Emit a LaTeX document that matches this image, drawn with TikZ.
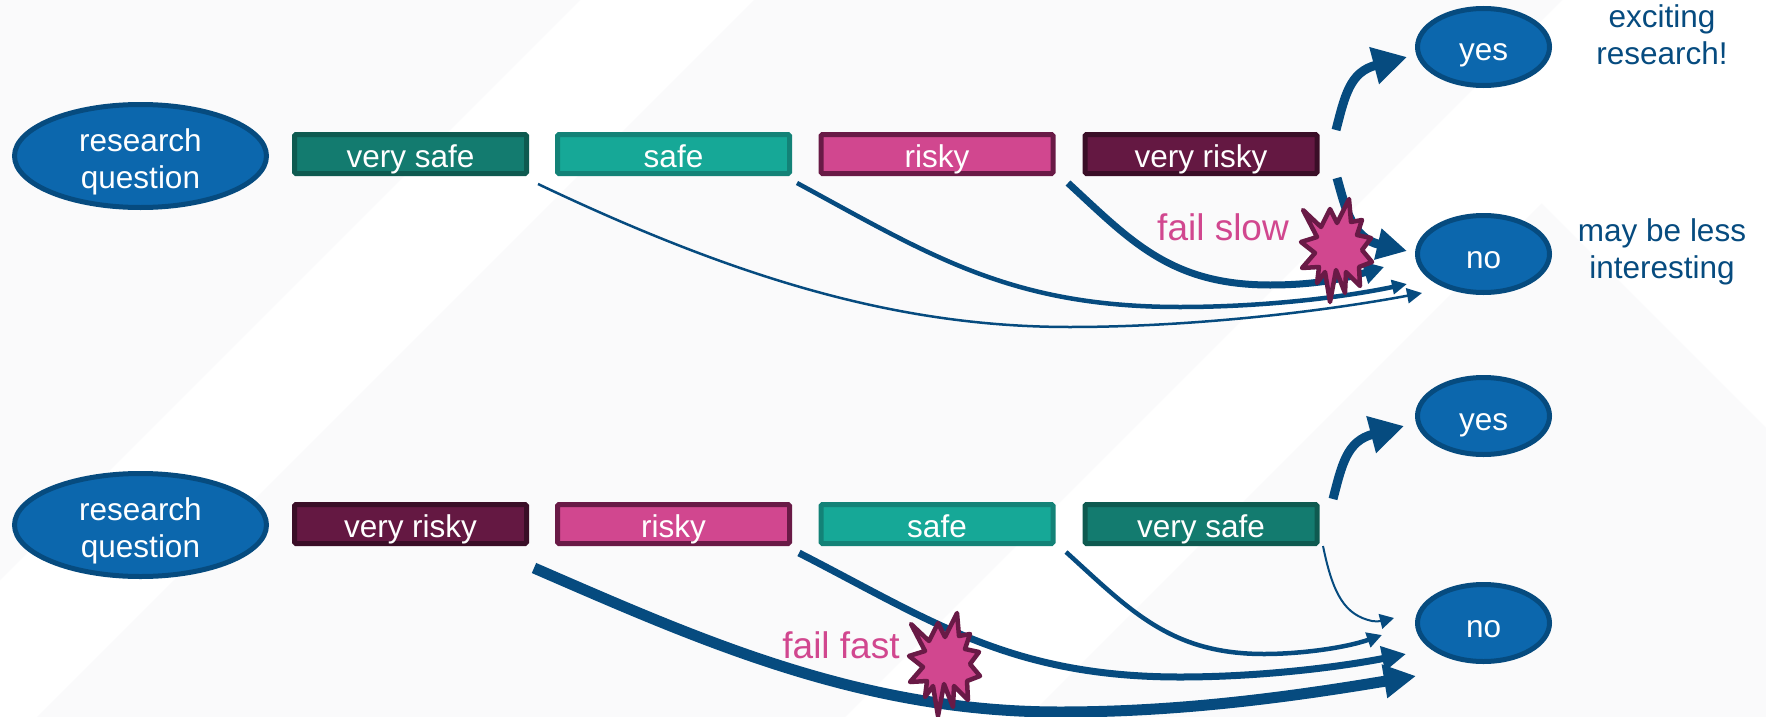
\documentclass[tikz,border=0pt]{standalone}
\usepackage{fontspec}
\setmainfont{Liberation Sans}
\usetikzlibrary{arrows.meta,shapes.geometric}
\definecolor{bgrey}{HTML}{FAFAFB}
\definecolor{navy}{HTML}{064B7F}
\definecolor{oval}{HTML}{0C67AD}
\definecolor{vsfill}{HTML}{137B6F}
\definecolor{vsline}{HTML}{0E5A50}
\definecolor{sfill}{HTML}{16A897}
\definecolor{sline}{HTML}{138277}
\definecolor{rfill}{HTML}{D1478F}
\definecolor{rline}{HTML}{691A46}
\definecolor{vrfill}{HTML}{641842}
\definecolor{vrline}{HTML}{3A0E27}
\tikzset{
  txt/.style={font=\fontsize{31.5}{37}\selectfont},
  bigoval/.style={ellipse,draw=navy,fill=oval,line width=5pt,minimum width=252pt,minimum height=103pt,inner xsep=0pt,inner ysep=-10pt,text=white,align=center,txt},
  smalloval/.style={ellipse,draw=navy,fill=oval,line width=5pt,minimum width=132pt,minimum height=77pt,inner sep=0pt,text=white,txt,text height=28pt,text depth=0pt},
  barbox/.style={rectangle,rounded corners=1.5pt,line width=5pt,minimum width=232pt,minimum height=39pt,inner sep=0pt,text=white,txt,text height=26pt,text depth=0pt},
  verysafe/.style={barbox,draw=vsline,fill=vsfill},
  safebox/.style={barbox,draw=sline,fill=sfill},
  riskybox/.style={barbox,draw=rline,fill=rfill},
  veryrisky/.style={barbox,draw=vrline,fill=vrfill},
  note/.style={text=navy,align=center,txt},
  failnote/.style={text=rfill,font=\fontsize{37}{40}\selectfont,anchor=base},
  flow/.style={draw=navy,line join=round},
  burst/.style={draw=rline,fill=rfill,line width=4.5pt,line join=round},
}
\newcommand{\burstat}[2]{%
  \path[burst,shift={(#1,#2)}] (-33,-40)--(-15,-23)--(-6,-41)--(1,-27)--(13,-51)--(15,-28)--(26,-30)--(21,-15)--(35,-12)--(26,0)--(36,12)--(23,17)--(24,36)--(10,22)--(9,43)--(0,20)--(-6,52)--(-11,22)--(-19,33)--(-17,17)--(-34,18)--(-21,3)--(-35,-8)--(-19,-13)--cycle;}
\begin{document}
\begin{tikzpicture}[x=1pt,y=-1pt]
\useasboundingbox (0,0) rectangle (1766,717);
% background
\fill[white] (0,0) rectangle (1766,717);
\fill[bgrey] (0,0)--(580,0)--(0,580)--cycle;
\fill[bgrey] (754,0)--(1562,0)--(845,717)--(37,717)--cycle;
\fill[bgrey] (1028,717)--(1541.5,203.5)--(1766,428)--(1766,717)--cycle;
% top row
\node[bigoval] (q1) at (140.5,156) {\rule{0pt}{34pt}research\\question};
\node[verysafe] (a1) at (410.5,154) {very safe};
\node[safebox] (a2) at (673.5,154) {safe};
\node[riskybox] (a3) at (937,154) {risky};
\node[veryrisky] (a4) at (1201,154) {very risky};
\node[smalloval] (y1) at (1483.5,47) {yes};
\node[smalloval] (n1) at (1483.5,254) {no};
\node[note] (e1) at (1662,35) {exciting\\research!};
\node[note] (m1) at (1662,252) {may be less\\interesting};
% bottom row
\node[bigoval] (q2) at (140.5,525) {\rule{0pt}{34pt}research\\question};
\node[veryrisky] (b1) at (410.5,524) {very risky};
\node[riskybox] (b2) at (673.5,524) {risky};
\node[safebox] (b3) at (937,524) {safe};
\node[verysafe] (b4) at (1201,524) {very safe};
\node[smalloval] (y2) at (1483.5,416) {yes};
\node[smalloval] (n2) at (1483.5,623) {no};
% connector ends
\coordinate (sa1) at (538,184); \coordinate (ea1) at (1422,293);
\coordinate (sa2) at (797,183); \coordinate (ea2) at (1407,284);
\coordinate (sa3) at (1068,183); \coordinate (ea3) at (1384,267);
\coordinate (sa4) at (1337,178); \coordinate (ea4) at (1407,251);
\coordinate (sa5) at (1336,130); \coordinate (ea5) at (1407,57);
\coordinate (sb1) at (534,568); \coordinate (eb1) at (1416,676);
\coordinate (sb2) at (799,553); \coordinate (eb2) at (1406,654);
\coordinate (sb3) at (1066,552); \coordinate (eb3) at (1382,635);
\coordinate (sb4) at (1323,546); \coordinate (eb4) at (1394,618);
\coordinate (sb5) at (1333,499); \coordinate (eb5) at (1404,426);
% top connectors
\draw[flow,line width=2.5pt,-{Triangle[length=15pt,width=15pt]}] (sa1) .. controls (740,280) and (900,327) .. (1070,327) .. controls (1190,327) and (1320,312) .. (ea1);
\draw[flow,line width=4.5pt,-{Triangle[length=15pt,width=14pt]}] (sa2) .. controls (930,255) and (1010,307) .. (1180,307) .. controls (1260,307) and (1340,298) .. (ea2);
\draw[flow,line width=7pt,-{Triangle[length=20pt,width=22pt]}] (sa3) .. controls (1130,240) and (1170,285) .. (1270,285) .. controls (1310,285) and (1340,280) .. (ea3);
\draw[flow,line width=9pt,-{Triangle[length=30pt,width=30pt]}] (sa4) .. controls (1346,210) and (1352,238) .. (ea4);
\draw[flow,line width=9pt,-{Triangle[length=34pt,width=36pt]}] (sa5) .. controls (1345,95) and (1350,72) .. (ea5);
\burstat{1336}{250}
\node[failnote] (f1) at (1223,240) {fail slow};
% bottom connectors
\draw[flow,line width=11pt,-{Triangle[length=32pt,width=32pt]}] (sb1) .. controls (700,640) and (860,712) .. (1060,712) .. controls (1180,712) and (1290,697) .. (eb1);
\draw[flow,line width=7pt,-{Triangle[length=24pt,width=24pt]}] (sb2) .. controls (930,620) and (1010,677) .. (1180,677) .. controls (1260,677) and (1340,667) .. (eb2);
\draw[flow,line width=4.5pt,-{Triangle[length=15pt,width=15pt]}] (sb3) .. controls (1130,610) and (1170,654) .. (1264,654) .. controls (1300,654) and (1345,648) .. (eb3);
\draw[flow,line width=2pt,-{Triangle[length=14pt,width=15pt]}] (sb4) .. controls (1333,595) and (1345,615) .. (1372,621) .. controls (1380,622) and (1386,620) .. (eb4);
\draw[flow,line width=9pt,-{Triangle[length=34pt,width=36pt]}] (sb5) .. controls (1342,464) and (1347,441) .. (eb5);
\burstat{944}{664}
\node[failnote] (f2) at (841,658) {fail fast};
\end{tikzpicture}
\end{document}
